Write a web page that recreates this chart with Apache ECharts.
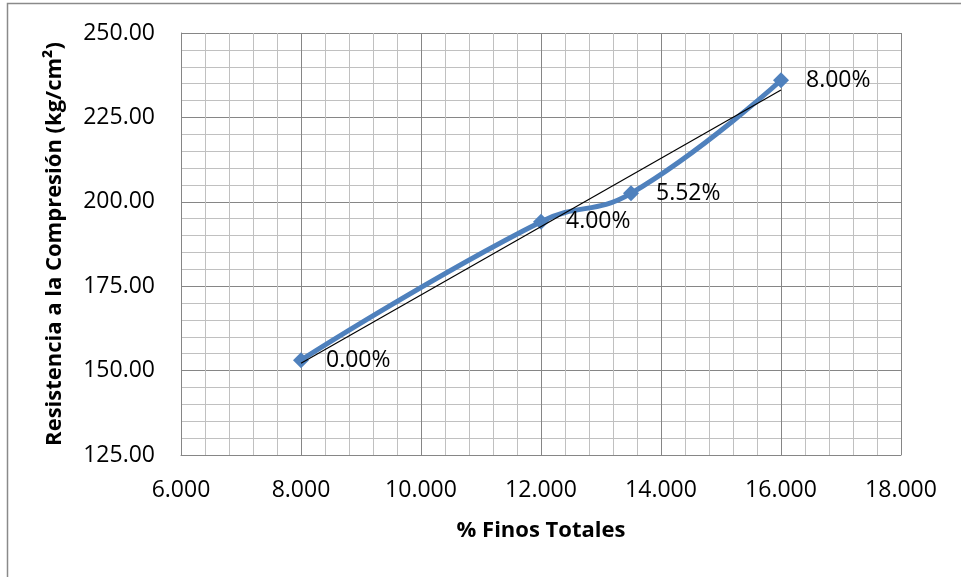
<!DOCTYPE html>
<html>
<head>
<meta charset="utf-8">
<title>Resistencia a la Compresión vs % Finos Totales</title>
<script src="https://cdn.jsdelivr.net/npm/echarts@6/dist/echarts.min.js"></script>
<style>
  html, body { margin: 0; padding: 0; background: #ffffff; }
  #chart { width: 961px; height: 577px; }
</style>
</head>
<body>
<div id="chart"></div>
<script>
// % fines (x) and compressive strength in kg/cm² (y) for each mix
const finosTotales = [8.0, 12.0, 13.5, 16.0];
const resistencia = [153.1, 194.1, 202.5, 236.0];
const etiquetas = ['0.00%', '4.00%', '5.52%', '8.00%'];

// axis ranges
const xRange = { min: 6, max: 18, step: 2 };
const yRange = { min: 125, max: 250, step: 25 };

// least-squares linear trend over the measured points
function linearFit(xs, ys) {
  const n = xs.length;
  const mx = xs.reduce((a, b) => a + b, 0) / n;
  const my = ys.reduce((a, b) => a + b, 0) / n;
  let sxy = 0, sxx = 0;
  for (let i = 0; i < n; i++) {
    sxy += (xs[i] - mx) * (ys[i] - my);
    sxx += (xs[i] - mx) * (xs[i] - mx);
  }
  const slope = sxy / sxx;
  return { slope, intercept: my - slope * mx };
}
const fit = linearFit(finosTotales, resistencia);
const xFirst = Math.min(...finosTotales);
const xLast = Math.max(...finosTotales);
const trend = [
  [xFirst, fit.intercept + fit.slope * xFirst],
  [xLast, fit.intercept + fit.slope * xLast]
];

const puntos = finosTotales.map((x, i) => [x, resistencia[i], etiquetas[i]]);

const FONT = '"Open Sans", "Noto Sans", sans-serif';
const chart = echarts.init(document.getElementById('chart'), null, { renderer: 'canvas' });

chart.setOption({
  animation: false,
  backgroundColor: '#ffffff',
  graphic: [{
    type: 'rect',
    shape: { x: 7.5, y: 3.5, width: 1000, height: 1000 },
    style: { fill: 'none', stroke: '#8a8a8a', lineWidth: 1.5 },
    silent: true,
    z: -10
  }],
  grid: { left: 181, right: 60, top: 33, bottom: 122, containLabel: false },
  xAxis: {
    type: 'value',
    min: xRange.min, max: xRange.max, interval: xRange.step,
    name: '% Finos Totales',
    nameLocation: 'middle',
    nameGap: 65,
    nameTextStyle: { fontFamily: FONT, fontSize: 22, fontWeight: 'bold', color: '#000' },
    axisLine: { show: true, lineStyle: { color: '#868686', width: 1 } },
    axisTick: { show: false },
    axisLabel: {
      margin: 24, fontFamily: FONT, fontSize: 23, color: '#000',
      formatter: v => v.toFixed(3)
    },
    splitLine: { show: true, lineStyle: { color: '#868686', width: 1 } },
    minorTick: { show: false, splitNumber: 5 },
    minorSplitLine: { show: true, lineStyle: { color: '#c0c0c0', width: 1 } }
  },
  yAxis: {
    type: 'value',
    min: yRange.min, max: yRange.max, interval: yRange.step,
    name: 'Resistencia a la Compresión (kg/cm²)',
    nameLocation: 'middle',
    nameRotate: 90,
    nameGap: 115,
    nameTextStyle: { fontFamily: FONT, fontSize: 22, fontWeight: 'bold', color: '#000' },
    axisLine: { show: true, lineStyle: { color: '#868686', width: 1 } },
    axisTick: { show: false },
    axisLabel: {
      margin: 26, fontFamily: FONT, fontSize: 23, color: '#000',
      formatter: v => v.toFixed(2)
    },
    splitLine: { show: true, lineStyle: { color: '#868686', width: 1 } },
    minorTick: { show: false, splitNumber: 5 },
    minorSplitLine: { show: true, lineStyle: { color: '#c0c0c0', width: 1 } }
  },
  series: [
    {
      name: 'Resistencia',
      type: 'line',
      data: puntos,
      smooth: 0.45,
      symbol: 'diamond',
      symbolSize: 16,
      itemStyle: { color: '#4f81bd' },
      lineStyle: { color: '#4f81bd', width: 5 },
      label: {
        show: true,
        position: 'right',
        distance: 17,
        fontFamily: FONT,
        fontSize: 23,
        color: '#000',
        formatter: p => p.data[2]
      },
      z: 3
    },
    {
      name: 'Tendencia',
      type: 'line',
      data: trend,
      symbol: 'none',
      lineStyle: { color: '#000', width: 1.2 },
      silent: true,
      z: 4
    }
  ]
});
</script>
</body>
</html>
